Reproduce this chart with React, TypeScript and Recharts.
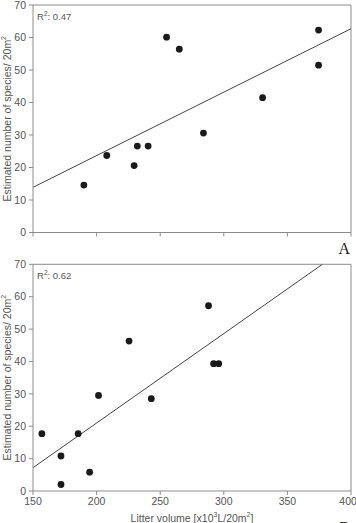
import {
    ScatterChart,
    Scatter,
    XAxis,
    YAxis,
    ReferenceLine,
    Customized,
} from 'recharts';

// Panel A: litter volume vs. estimated species
const litterA = [190, 208, 229.5, 232, 240.5, 255, 265, 284, 330.5, 374.5, 374.5];
const speciesA = [14.6, 23.7, 20.6, 26.6, 26.6, 60.1, 56.4, 30.6, 41.5, 62.3, 51.5];
// fitted line endpoints (x, y)
const fitA = [
    { x: 150, y: 13.9 },
    { x: 400, y: 62.7 },
];

// Panel B
const litterB = [157, 172, 172, 185.5, 194.5, 201.5, 225.5, 243, 288, 292, 296];
const speciesB = [17.7, 10.8, 2.0, 17.7, 5.8, 29.5, 46.3, 28.5, 57.2, 39.3, 39.3];
const fitB = [
    { x: 150, y: 7.2 },
    { x: 377.5, y: 70 },
];

const xTicks = [150, 200, 250, 300, 350, 400];
const yTicks = [0, 10, 20, 30, 40, 50, 60, 70];

const FONT = '"Liberation Sans", Arial, sans-serif';
const AXIS = '#8c8c8c';
const TEXT = '#555';

const toPoints = (xs: number[], ys: number[]) => xs.map((x, i) => ({ x, y: ys[i] }));

const Dot = (props: any) => <circle cx={props.cx} cy={props.cy} r={3.4} fill="#1a1a1a" />;

const YLabel = ({ cy }: { cy: number }) => (
    <text
        x={7}
        y={cy}
        transform={`rotate(-90 7 ${cy})`}
        textAnchor="middle"
        dominantBaseline="central"
        fontSize={10.5}
        fill={TEXT}
        fontFamily={FONT}
    >
        Estimated number of species/ 20m
        <tspan dy={-4} fontSize={7}>2</tspan>
    </text>
);

function Panel({
    data,
    fit,
    height,
    top,
    plotBottom,
    showXLabels,
    r2,
    letter,
    letterY,
}: {
    data: { x: number; y: number }[];
    fit: { x: number; y: number }[];
    height: number;
    top: number;
    plotBottom: number;
    showXLabels: boolean;
    r2: string;
    letter: string;
    letterY: number;
}) {
    return (
        <ScatterChart
            width={356}
            height={height}
            margin={{ top, right: 5, left: 0, bottom: 0 }}
            style={{ fontFamily: FONT }}
        >
            <XAxis
                type="number"
                dataKey="x"
                domain={[150, 400]}
                ticks={xTicks}
                height={height - plotBottom}
                stroke={AXIS}
                tickSize={4}
                tickMargin={3}
                tick={showXLabels ? { fill: TEXT, fontSize: 10.5 } : () => <g />}
            />
            <YAxis
                type="number"
                dataKey="y"
                domain={[0, 70]}
                ticks={yTicks}
                width={33}
                stroke={AXIS}
                tickSize={4}
                tickMargin={3}
                tick={{ fill: TEXT, fontSize: 10.5 }}
            />
            <ReferenceLine y={70} stroke={AXIS} />
            <ReferenceLine x={400} stroke={AXIS} />
            <ReferenceLine
                segment={fit}
                stroke="#444"
                strokeWidth={1}
                ifOverflow="visible"
            />
            <Scatter data={data} shape={Dot} isAnimationActive={false} />
            <Customized
                component={() => (
                    <g fontFamily={FONT}>
                        <YLabel cy={(top + plotBottom) / 2} />
                        <text x={37} y={top + 15} fontSize={9.5} fill={TEXT}>
                            R<tspan dy={-4} fontSize={6.5}>2</tspan>
                            <tspan dy={4}>: {r2}</tspan>
                        </text>
                        {showXLabels && (
                            <text
                                x={192}
                                y={plotBottom + 27}
                                textAnchor="middle"
                                dominantBaseline="central"
                                fontSize={10.5}
                                fill={TEXT}
                            >
                                Litter volume [x10
                                <tspan dy={-4} fontSize={7}>3</tspan>
                                <tspan dy={4}>L/20m</tspan>
                                <tspan dy={-4} fontSize={7}>2</tspan>
                                <tspan dy={4}>]</tspan>
                            </text>
                        )}
                        <text
                            x={350}
                            y={letterY}
                            textAnchor="end"
                            fontSize={16}
                            fill="#222"
                            fontFamily='"Liberation Serif", "Times New Roman", serif'
                        >
                            {letter}
                        </text>
                    </g>
                )}
            />
        </ScatterChart>
    );
}

export default function App() {
    return (
        <div
            style={{
                position: 'absolute',
                left: 0,
                top: 0,
                width: 356,
                height: 523,
                background: '#fff',
                overflow: 'hidden',
            }}
        >
            <Panel
                data={toPoints(litterA, speciesA)}
                fit={fitA}
                height={260}
                top={5}
                plotBottom={232.5}
                showXLabels={false}
                r2="0.47"
                letter="A"
                letterY={254}
            />
            <div style={{ position: 'absolute', left: 0, top: 250 }}>
                <Panel
                    data={toPoints(litterB, speciesB)}
                    fit={fitB}
                    height={290}
                    top={14.3}
                    plotBottom={241}
                    showXLabels
                    r2="0.62"
                    letter="B"
                    letterY={283}
                />
            </div>
        </div>
    );
}
